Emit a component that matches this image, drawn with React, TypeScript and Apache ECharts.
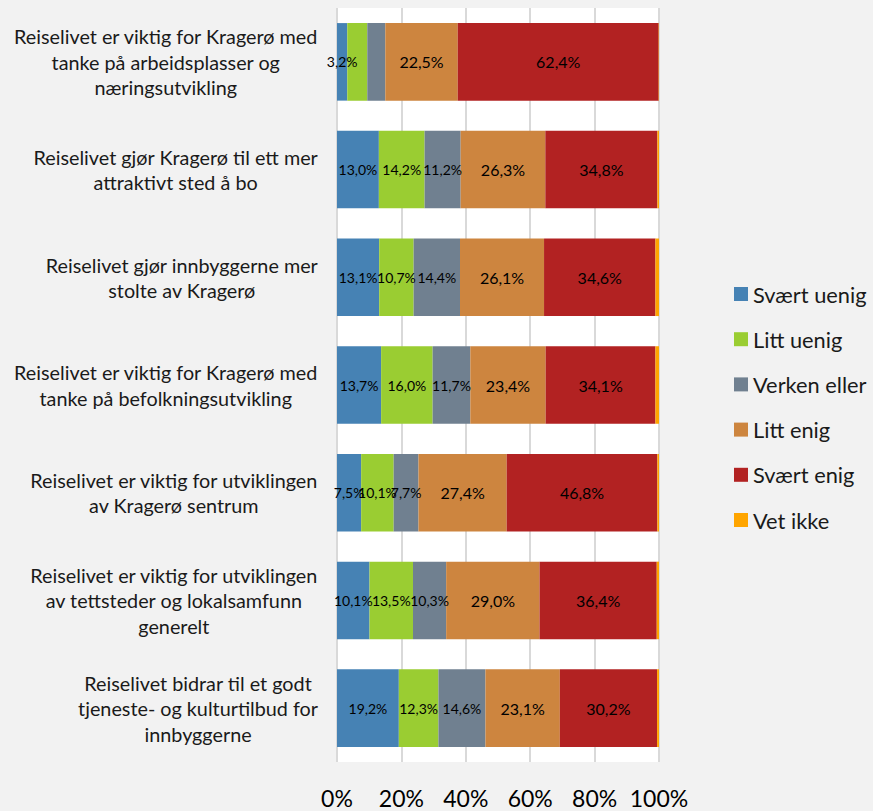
import React, { useEffect, useRef } from "react";
import * as echarts from "echarts";

const categories = [
  "Reiselivet er viktig for Kragerø med\ntanke på arbeidsplasser og\nnæringsutvikling",
  "Reiselivet gjør Kragerø til ett mer\nattraktivt sted å bo",
  "Reiselivet gjør innbyggerne mer\nstolte av Kragerø",
  "Reiselivet er viktig for Kragerø med\ntanke på befolkningsutvikling",
  "Reiselivet er viktig for utviklingen\nav Kragerø sentrum",
  "Reiselivet er viktig for utviklingen\nav tettsteder og lokalsamfunn\ngenerelt",
  "Reiselivet bidrar til et godt\ntjeneste- og kulturtilbud for\ninnbyggerne",
];

const seriesNames = ["Svært uenig", "Litt uenig", "Verken eller", "Litt enig", "Svært enig", "Vet ikke"];
const seriesColors = ["#4682b4", "#9acd32", "#708090", "#cd853f", "#b22222", "#ffa500"];

const svaertUenig = [3.2, 13.0, 13.1, 13.7, 7.5, 10.1, 19.2];
const littUenig = [6.2, 14.2, 10.7, 16.0, 10.1, 13.5, 12.3];
const verkenEller = [5.6, 11.2, 14.4, 11.7, 7.7, 10.3, 14.6];
const littEnig = [22.5, 26.3, 26.1, 23.4, 27.4, 29.0, 23.1];
const svaertEnig = [62.4, 34.8, 34.6, 34.1, 46.8, 36.4, 30.2];
const vetIkke = [0.1, 0.5, 1.1, 1.1, 0.5, 0.7, 0.6];

// which labels are shown (per series, per category)
const labelShown = [
  [true, true, true, true, true, true, true],
  [false, true, true, true, true, true, true],
  [false, true, true, true, true, true, true],
  [true, true, true, true, true, true, true],
  [true, true, true, true, true, true, true],
  [false, false, false, false, false, false, false],
];

const xTicks = [0, 20, 40, 60, 80, 100];

const FONT = "Lato, 'Open Sans', sans-serif";

export default function App() {
  const ref = useRef<HTMLDivElement>(null);
  useEffect(() => {
    if (!ref.current) return;
    const chart = echarts.init(ref.current, null, { renderer: "svg" });
    const allValues = [svaertUenig, littUenig, verkenEller, littEnig, svaertEnig, vetIkke];
    const series = allValues.map((vals, si) => ({
      name: seriesNames[si],
      type: "bar",
      stack: "total",
      barCategoryGap: "28%",
      itemStyle: { color: seriesColors[si] },
      label: {
        show: true,
        position: "inside",
        color: "#000",
        fontFamily: FONT,
        fontSize: si >= 3 ? 16 : 14,
        formatter: (p: any) => p.value.toFixed(1).replace(".", ",") + "%",
      },
      data: vals.map((v, ci) => ({
        value: v,
        label: { show: labelShown[si][ci] },
      })),
    }));
    chart.setOption({
      animation: false,
      backgroundColor: "#f2f2f2",
      textStyle: { fontFamily: FONT },
      grid: {
        left: 337,
        right: 214,
        top: 8,
        bottom: 49,
        show: true,
        backgroundColor: "#ffffff",
        borderWidth: 0,
        containLabel: false,
      },
      legend: {
        orient: "vertical",
        left: 734,
        top: 283,
        padding: 0,
        itemWidth: 14,
        itemHeight: 14,
        itemGap: 23.2,
        icon: "rect",
        textStyle: { fontFamily: FONT, fontSize: 21.8, color: "#1a1a1a", lineHeight: 20 },
        data: seriesNames,
      },
      xAxis: {
        type: "value",
        min: 0,
        max: 100,
        interval: 20,
        axisLine: { show: false },
        axisTick: { show: false },
        splitLine: { show: true, lineStyle: { color: "#d9d9d9", width: 2 } },
        axisLabel: {
          fontFamily: FONT,
          fontSize: 23,
          lineHeight: 22,
          color: "#000",
          margin: 25,
          formatter: (v: number) => (xTicks.includes(v) ? v + "%" : ""),
        },
      },
      yAxis: {
        type: "category",
        inverse: true,
        data: categories,
        axisLine: { show: false },
        axisTick: { show: false },
        axisLabel: {
          margin: 19,
          formatter: (value: string) =>
            value
              .split("\n")
              .map((l) => `{c|${l}}`)
              .join("\n"),
          rich: {
            c: {
              align: "center",
              fontFamily: FONT,
              fontSize: 19.8,
              lineHeight: 25.5,
              color: "#1a1a1a",
            },
          },
        },
      },
      series,
    });
    return () => chart.dispose();
  }, []);
  return (
    <div
      ref={ref}
      style={{ position: "fixed", left: 0, top: 0, width: 873, height: 811, background: "#f2f2f2" }}
    />
  );
}
